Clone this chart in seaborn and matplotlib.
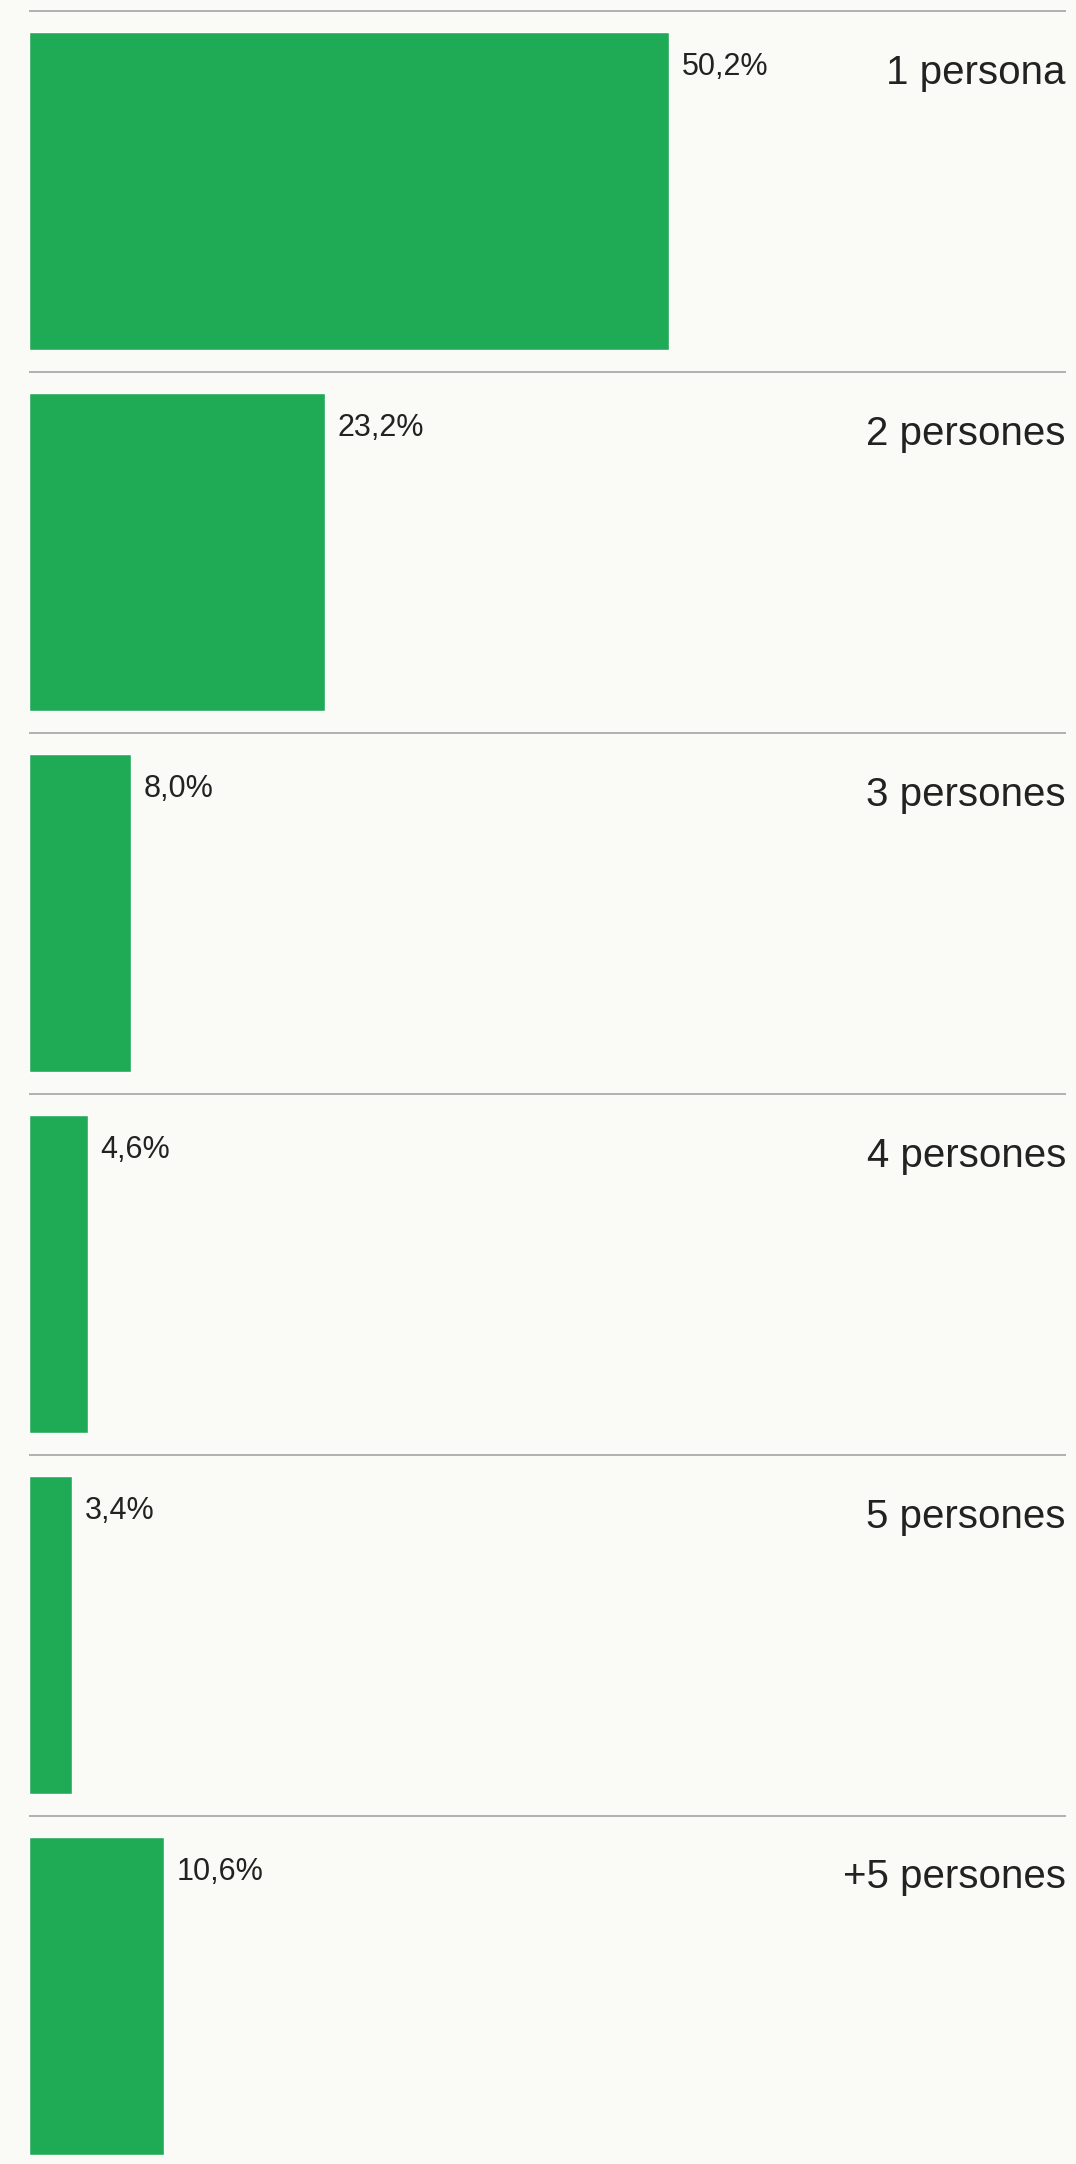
"""Llars per nombre de persones — barres horitzontals en files separades."""
import matplotlib
matplotlib.use("Agg")
import matplotlib.pyplot as plt
import matplotlib.transforms as mtransforms
import pandas as pd
import seaborn as sns

grups = ["1 persona", "2 persones", "3 persones", "4 persones", "5 persones", "+5 persones"]
percentatges = [50.2, 23.2, 8.0, 4.6, 3.4, 10.6]

BG = "#FAFBF6"
GREEN = "#1FAA55"
TEXT = "#222222"
RULE = "#9C9C9C"

sns.set_theme(style="white")
plt.rcParams["font.family"] = ["Liberation Sans", "DejaVu Sans"]

df = pd.DataFrame({"grup": grups, "pct": percentatges})

W, H = 1076, 2164
fig = plt.figure(figsize=(W / 100, H / 100), dpi=100, facecolor=BG)
# axis spans from x=29 px to x=1066 px, full height
ax = fig.add_axes([29 / W, 0, (1066 - 29) / W, 1])
ax.set_facecolor(BG)

sns.barplot(data=df, x="pct", y="grup", orient="h", color=GREEN,
            width=0.88, saturation=1, ax=ax)

row_px = 361
first_center = 191
ax.set_ylim((H - first_center) / row_px, -first_center / row_px)
ax.set_xlim(0, (1066 - 29) / 12.75)

# separator line above every row
for i in range(len(grups)):
    ax.axhline(i - 0.5, color=RULE, lw=1.1, zorder=0)

trans = mtransforms.blended_transform_factory(ax.transAxes, ax.transData)
for i, (g, v) in enumerate(zip(grups, percentatges)):
    label = f"{v:.1f}".replace(".", ",") + "%"
    ax.annotate(label, xy=(v, i - 0.5 + 64 / row_px), xytext=(9, 0),
                textcoords="offset points", ha="left", va="baseline",
                fontsize=22, color=TEXT)
    ax.text(1.0, i - 0.5 + 73 / row_px, g, transform=trans, ha="right",
            va="baseline", fontsize=29, color=TEXT)

ax.set_xlabel("")
ax.set_ylabel("")
ax.set_xticks([])
ax.set_yticks([])
sns.despine(ax=ax, left=True, bottom=True)

fig.savefig("out.png", dpi=100, facecolor=BG)
